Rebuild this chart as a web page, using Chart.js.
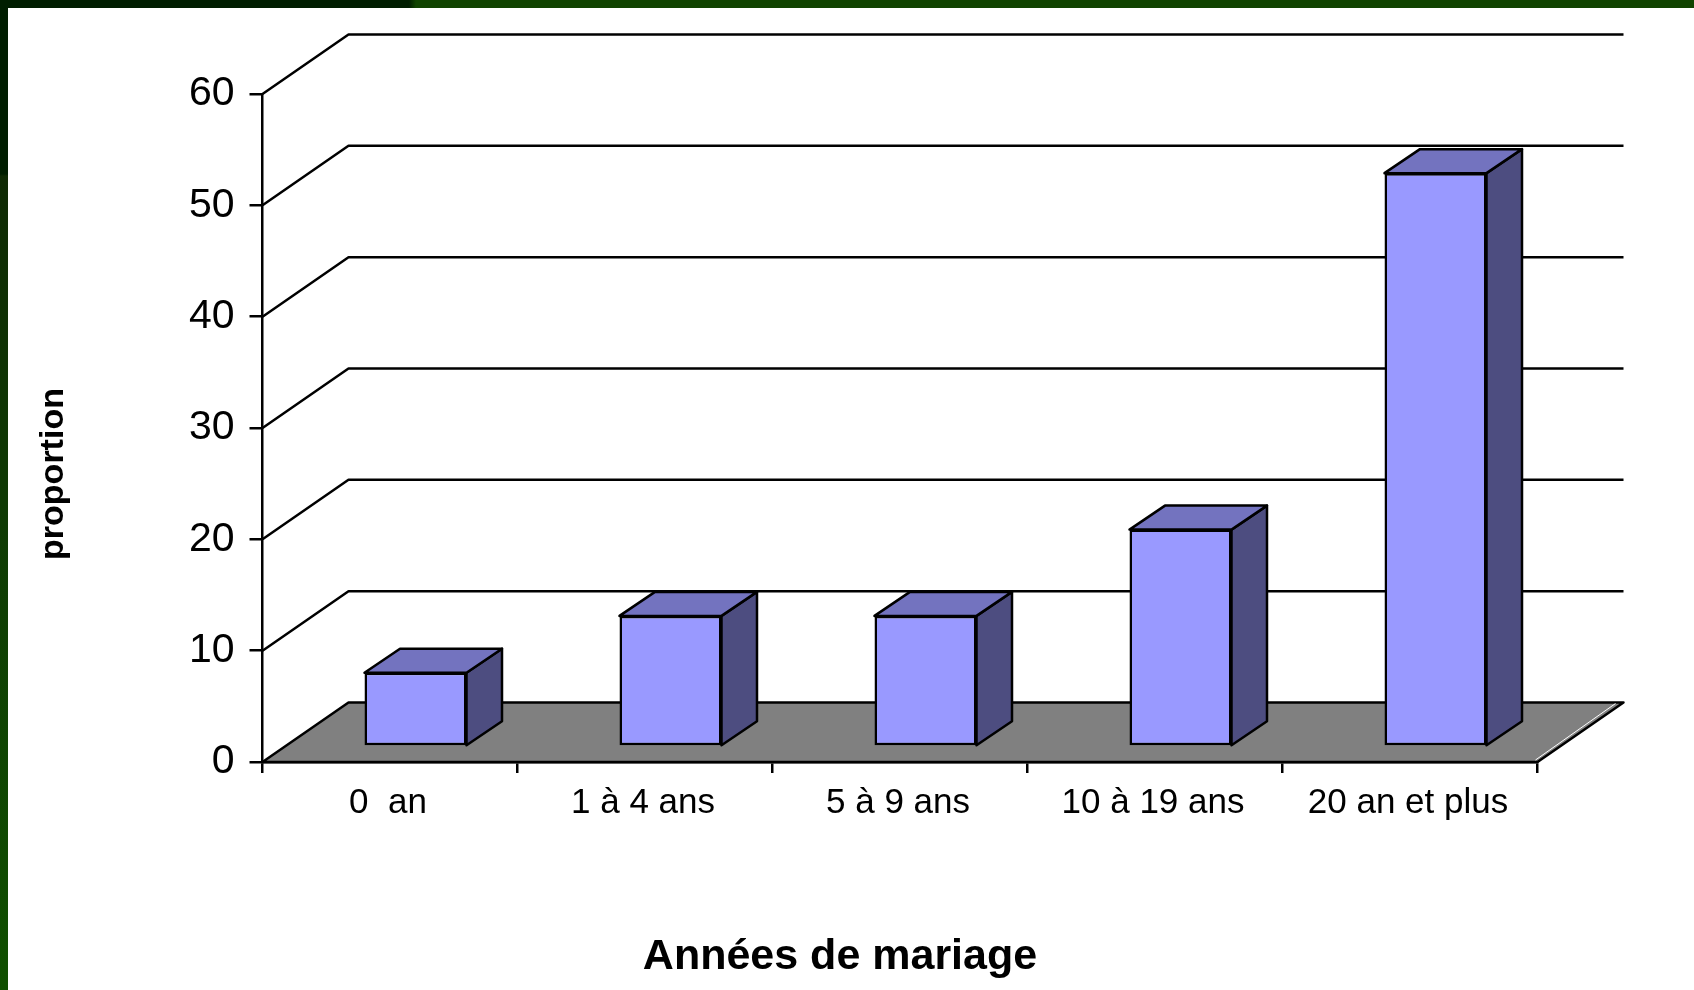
<!DOCTYPE html>
<html>
<head>
<meta charset="utf-8">
<title>Années de mariage</title>
<script src="https://cdn.jsdelivr.net/npm/chart.js@4"></script>
<style>
    html, body { margin: 0; padding: 0; background: #fff; overflow: hidden; }
    #frameTop { position: absolute; left: 0; top: 0; width: 1694px; height: 8px;
        background: linear-gradient(90deg, #001e00 0, #001e00 409px, #104400 416px, #104400 100%); }
    #frameLeft { position: absolute; left: 0; top: 0; width: 8px; height: 990px;
        background: linear-gradient(180deg, #001e00 0, #001e00 174px, #0f2a04 176px, #0f3a04 500px, #105000 100%); }
    #wrap { position: absolute; left: 0; top: 0; width: 1694px; height: 990px; }
</style>
</head>
<body>
<div id="wrap"><canvas id="chart" width="1694" height="990"></canvas></div>
<div id="frameTop"></div>
<div id="frameLeft"></div>
<script>
// Data
var categories = ['0  an', '1 à 4 ans', '5 à 9 ans', '10 à 19 ans', '20 an et plus'];
var proportions = [6.63, 11.73, 11.73, 19.48, 51.5];
var yTicks = [0, 10, 20, 30, 40, 50, 60];
var xTitle = 'Années de mariage';
var yTitle = 'proportion';

// 3D look, in pixels
var floorDepth = { x: 86, y: 59.5 };
var barDepth = { x: 35.5, y: 24 };
var barShift = { x: 25.5, y: 15.5 };

var frontColor = '#9999FF';
var topColor = '#7373BF';
var sideColor = '#4D4D80';
var floorColor = '#808080';
var lineWidth = 2.5;
var fontName = '"Liberation Sans", Arial, sans-serif';

function poly(ctx, pts, fill) {
    ctx.beginPath();
    ctx.moveTo(pts[0][0], pts[0][1]);
    for (var i = 1; i < pts.length; i++) {
        ctx.lineTo(pts[i][0], pts[i][1]);
    }
    ctx.closePath();
    if (fill) {
        ctx.fillStyle = fill;
        ctx.fill();
    }
    ctx.stroke();
}

// walls and floor behind the bars
var wallPlugin = {
    id: 'wall',
    beforeDatasetsDraw: function (chart) {
        var ctx = chart.ctx;
        var area = chart.chartArea;
        var y = chart.scales.y;
        ctx.save();
        ctx.strokeStyle = '#000';
        ctx.lineWidth = lineWidth;
        ctx.lineJoin = 'round';

        var y0 = y.getPixelForValue(0);
        poly(ctx, [
            [area.left, y0],
            [area.left + floorDepth.x, y0 - floorDepth.y],
            [area.right + floorDepth.x, y0 - floorDepth.y],
            [area.right, y0]
        ], floorColor);

        // thin light edge on the right of the floor
        ctx.save();
        ctx.strokeStyle = '#fff';
        ctx.lineWidth = 1;
        ctx.beginPath();
        ctx.moveTo(area.right - 2, y0 - 2);
        ctx.lineTo(area.right + floorDepth.x - 8, y0 - floorDepth.y + 1);
        ctx.stroke();
        ctx.restore();

        yTicks.forEach(function (v) {
            if (v === 0) return;
            var py = y.getPixelForValue(v);
            ctx.beginPath();
            ctx.moveTo(area.left, py);
            ctx.lineTo(area.left + floorDepth.x, py - floorDepth.y);
            ctx.lineTo(area.right + floorDepth.x, py - floorDepth.y);
            ctx.stroke();
        });
        ctx.restore();
    }
};

// the library draws the front of each bar, moved onto the floor; top and side are added here
var barPlugin = {
    id: 'bar3d',
    beforeDatasetDraw: function (chart, args) {
        var ctx = chart.ctx;
        ctx.save();
        ctx.strokeStyle = '#000';
        ctx.lineWidth = lineWidth;
        ctx.lineJoin = 'round';
        args.meta.data.forEach(function (bar) {
            var p = bar.getProps(['x', 'y', 'base', 'width'], true);
            var l = p.x - p.width / 2 + barShift.x;
            var r = p.x + p.width / 2 + barShift.x;
            var t = p.y - barShift.y;
            var b = p.base - barShift.y;
            poly(ctx, [[r, t], [r + barDepth.x, t - barDepth.y], [r + barDepth.x, b - barDepth.y], [r, b]], sideColor);
            poly(ctx, [[l, t], [l + barDepth.x, t - barDepth.y], [r + barDepth.x, t - barDepth.y], [r, t]], topColor);
        });
        ctx.restore();
        ctx.save();
        ctx.translate(barShift.x, -barShift.y);
    },
    afterDatasetDraw: function (chart) {
        chart.ctx.restore();
    }
};

var titlePlugin = {
    id: 'axisTitles',
    afterDraw: function (chart) {
        var ctx = chart.ctx;
        ctx.save();
        ctx.fillStyle = '#000';
        ctx.textAlign = 'center';
        ctx.textBaseline = 'middle';
        ctx.font = 'bold 43px ' + fontName;
        ctx.fillText(xTitle, 840, 957);
        ctx.translate(54, 474);
        ctx.rotate(-Math.PI / 2);
        ctx.font = 'bold 34px ' + fontName;
        ctx.fillText(yTitle, 0, 0);
        ctx.restore();
    }
};

var ctx = document.getElementById('chart').getContext('2d');
new Chart(ctx, {
    type: 'bar',
    data: {
        labels: categories,
        datasets: [{
            data: proportions,
            backgroundColor: frontColor,
            borderColor: '#000',
            borderWidth: lineWidth,
            borderSkipped: false,
            barPercentage: 0.4,
            categoryPercentage: 1,
            clip: false
        }]
    },
    options: {
        responsive: false,
        animation: false,
        layout: { padding: { top: 94, left: 0, right: 156.5, bottom: 0 } },
        plugins: { legend: { display: false }, tooltip: { enabled: false } },
        scales: {
            x: {
                grid: { drawOnChartArea: false, drawTicks: true, tickLength: 11, color: '#000', lineWidth: lineWidth },
                border: { display: true, color: '#000', width: lineWidth },
                ticks: { color: '#000', font: { family: fontName, size: 35 }, padding: 9, labelOffset: -2, maxRotation: 0, autoSkip: false },
                afterFit: function (scale) { scale.height = 228; }
            },
            y: {
                min: 0,
                max: 60,
                grid: { drawOnChartArea: false, drawTicks: true, tickLength: 13, color: '#000', lineWidth: lineWidth },
                border: { display: true, color: '#000', width: lineWidth },
                ticks: { color: '#000', font: { family: fontName, size: 41 }, padding: 15, stepSize: 10 },
                afterFit: function (scale) { scale.width = 262.5; }
            }
        }
    },
    plugins: [wallPlugin, barPlugin, titlePlugin]
});
</script>
</body>
</html>
